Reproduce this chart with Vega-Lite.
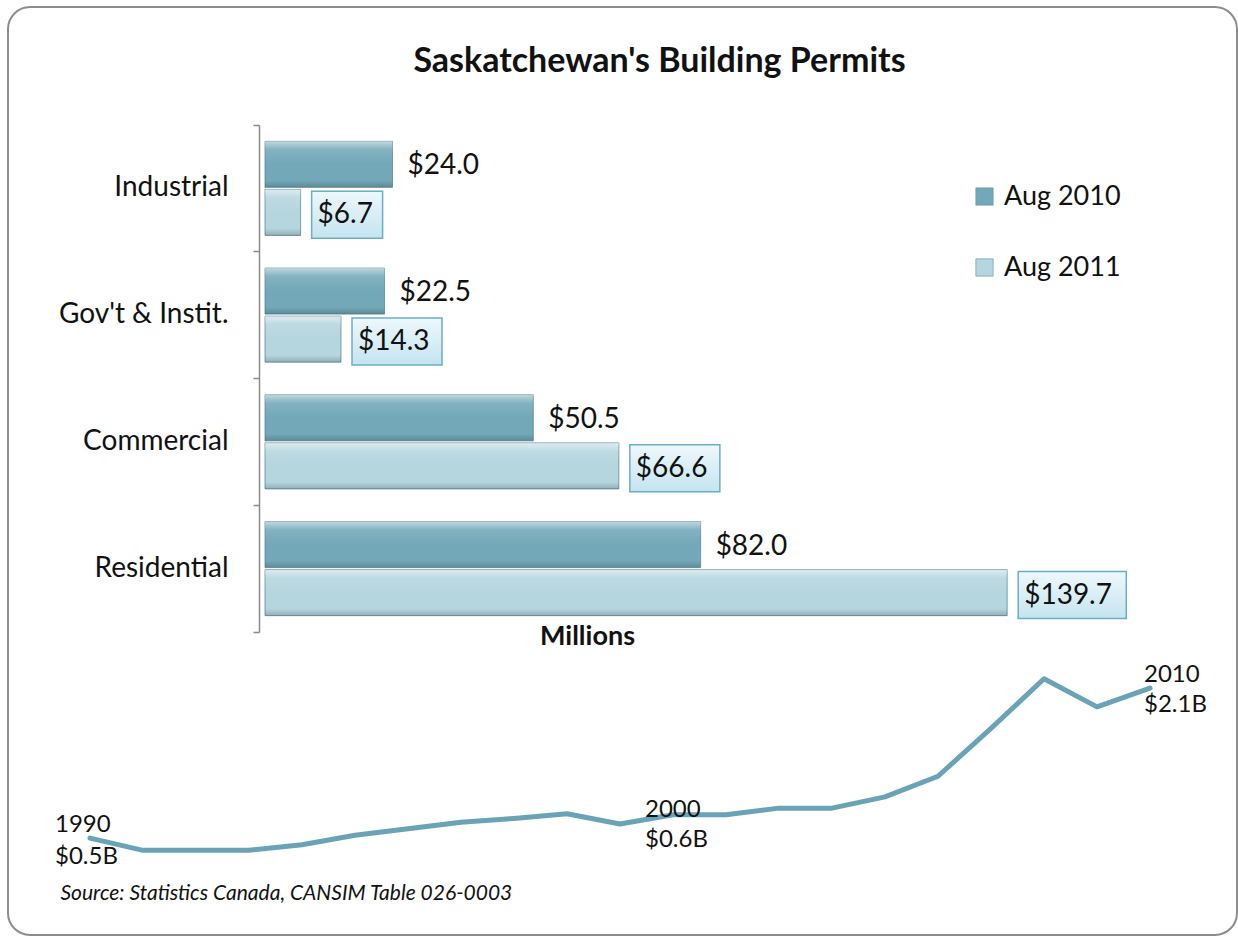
{
  "$schema": "https://vega.github.io/schema/vega-lite/v6.json",
  "width": 1229,
  "height": 928,
  "autosize": {"type": "none"},
  "padding": {"left": 8, "top": 7, "right": 1, "bottom": 7},
  "background": "white",
  "config": {
    "view": {"stroke": "#8c8c8c", "strokeWidth": 2, "cornerRadius": 22},
    "font": "Lato",
    "text": {"font": "Lato", "color": "#111111"}
  },
  "title": {
    "text": "Saskatchewan's Building Permits",
    "font": "Lato",
    "fontSize": 34,
    "fontWeight": "bold",
    "color": "#111111",
    "anchor": "middle",
    "offset": 0,
    "dx": 37,
    "dy": 86
  },
  "datasets": {
    "bars": [
      {"category": "Industrial", "series": "Aug 2010", "value": 24.0},
      {"category": "Industrial", "series": "Aug 2011", "value": 6.7},
      {"category": "Gov't & Instit.", "series": "Aug 2010", "value": 22.5},
      {"category": "Gov't & Instit.", "series": "Aug 2011", "value": 14.3},
      {"category": "Commercial", "series": "Aug 2010", "value": 50.5},
      {"category": "Commercial", "series": "Aug 2011", "value": 66.6},
      {"category": "Residential", "series": "Aug 2010", "value": 82.0},
      {"category": "Residential", "series": "Aug 2011", "value": 139.7}
    ],
    "trend": [
      {"year": 1990, "value": 0.50, "label": "1990\n$0.5B"},
      {"year": 1991, "value": 0.37, "label": ""},
      {"year": 1992, "value": 0.37, "label": ""},
      {"year": 1993, "value": 0.37, "label": ""},
      {"year": 1994, "value": 0.43, "label": ""},
      {"year": 1995, "value": 0.53, "label": ""},
      {"year": 1996, "value": 0.60, "label": ""},
      {"year": 1997, "value": 0.67, "label": ""},
      {"year": 1998, "value": 0.71, "label": ""},
      {"year": 1999, "value": 0.76, "label": ""},
      {"year": 2000, "value": 0.65, "label": "2000\n$0.6B"},
      {"year": 2001, "value": 0.75, "label": ""},
      {"year": 2002, "value": 0.75, "label": ""},
      {"year": 2003, "value": 0.82, "label": ""},
      {"year": 2004, "value": 0.82, "label": ""},
      {"year": 2005, "value": 0.94, "label": ""},
      {"year": 2006, "value": 1.16, "label": ""},
      {"year": 2007, "value": 1.67, "label": ""},
      {"year": 2008, "value": 2.20, "label": ""},
      {"year": 2009, "value": 1.90, "label": ""},
      {"year": 2010, "value": 2.10, "label": "2010\n$2.1B"}
    ]
  },
  "layer": [
    {
      "data": {"name": "bars"},
      "encoding": {
        "y": {
          "field": "category",
          "type": "nominal",
          "sort": ["Industrial", "Gov't & Instit.", "Commercial", "Residential"],
          "scale": {"range": [118, 625], "paddingInner": 0, "paddingOuter": 0},
          "axis": {
            "orient": "left",
            "title": null,
            "offset": -251,
            "grid": false,
            "domainColor": "#8a8a8a",
            "domainWidth": 1.5,
            "tickColor": "#8a8a8a",
            "tickWidth": 1.5,
            "tickSize": 6,
            "bandPosition": 1,
            "tickExtra": true,
            "labelFont": "Lato",
            "labelFontSize": 28,
            "labelColor": "#111111",
            "labelPadding": 25
          }
        },
        "yOffset": {
          "field": "series",
          "type": "nominal",
          "scale": {"paddingInner": 0.042, "paddingOuter": 0.34}
        },
        "x": {
          "field": "value",
          "type": "quantitative",
          "scale": {"domain": [0, 160], "range": [257, 1107], "nice": false, "zero": true},
          "axis": {
            "orient": "bottom",
            "labels": false,
            "ticks": false,
            "domain": false,
            "grid": false,
            "title": "Millions",
            "titleFont": "Lato",
            "titleFontSize": 27,
            "titleFontWeight": "bold",
            "titleColor": "#111111",
            "titleX": 579,
            "titleY": -299,
            "titleAnchor": null,
            "titleAlign": "center",
            "titleBaseline": "middle"
          }
        }
      },
      "layer": [
        {
          "mark": {"type": "bar", "stroke": "#4f7f8d", "strokeWidth": 1, "strokeOpacity": 0.7},
          "encoding": {
            "color": {
              "field": "series",
              "type": "nominal",
              "scale": {"domain": ["Aug 2010", "Aug 2011"], "range": ["#72a8b8", "#b5d5df"]},
              "legend": {
                "title": null,
                "orient": "none",
                "legendX": 963,
                "legendY": 176,
                "padding": 0,
                "symbolType": "square",
                "symbolSize": 300,
                "symbolStrokeColor": "#5d8f9e",
                "symbolStrokeWidth": 0.6,
                "symbolOpacity": 1,
                "labelFont": "Lato",
                "labelFontSize": 27,
                "labelColor": "#111111",
                "labelOffset": 6,
                "rowPadding": 43
              }
            }
          }
        },
        {
          "mark": {
            "type": "bar",
            "fill": {
              "gradient": "linear",
              "x1": 0, "y1": 0, "x2": 0, "y2": 1,
              "stops": [
                {"offset": 0, "color": "rgba(255,255,255,0.55)"},
                {"offset": 0.18, "color": "rgba(255,255,255,0.12)"},
                {"offset": 0.5, "color": "rgba(255,255,255,0)"},
                {"offset": 0.85, "color": "rgba(0,0,0,0)"},
                {"offset": 1, "color": "rgba(0,0,0,0.18)"}
              ]
            }
          }
        },
        {
          "transform": [{"filter": "datum.series == 'Aug 2010'"}],
          "mark": {"type": "text", "align": "left", "baseline": "middle", "dx": 15, "dy": 2, "fontSize": 28, "font": "Lato", "color": "#111111"},
          "encoding": {"text": {"field": "value", "type": "quantitative", "format": "$.1f"}}
        },
        {
          "transform": [{"filter": "datum.series == 'Aug 2011'"}],
          "mark": {
            "type": "point",
            "filled": true,
            "opacity": 1,
            "size": 2209,
            "fill": {
              "gradient": "linear",
              "x1": 0, "y1": 0, "x2": 0, "y2": 1,
              "stops": [
                {"offset": 0, "color": "#eef8fc"},
                {"offset": 1, "color": "#c4e4f0"}
              ]
            },
            "stroke": "#6aaec4",
            "strokeWidth": 1.5
          },
          "encoding": {
            "shape": {
              "field": "value",
              "type": "nominal",
              "scale": {
                "domain": [6.7, 14.3, 66.6, 139.7],
                "range": [
                  "M0.47,-0.9H3.49V1.1H0.47Z",
                  "M0.47,-0.9H4.30V1.1H0.47Z",
                  "M0.47,-0.9H4.30V1.1H0.47Z",
                  "M0.47,-0.9H5.07V1.1H0.47Z"
                ]
              },
              "legend": null
            }
          }
        },
        {
          "transform": [{"filter": "datum.series == 'Aug 2011'"}],
          "mark": {"type": "text", "align": "left", "baseline": "middle", "dx": 17, "dy": 3, "fontSize": 28, "font": "Lato", "color": "#111111"},
          "encoding": {"text": {"field": "value", "type": "quantitative", "format": "$.1f"}}
        }
      ]
    },
    {
      "data": {"name": "trend"},
      "encoding": {
        "x": {
          "field": "year",
          "type": "quantitative",
          "scale": {"domain": [1990, 2010], "range": [82, 1142], "nice": false, "zero": false},
          "axis": {
            "orient": "top",
            "labels": false,
            "ticks": false,
            "domain": false,
            "grid": false,
            "title": "Source: Statistics Canada,  CANSIM Table 026-0003",
            "titleFont": "Lato",
            "titleFontSize": 21,
            "titleFontStyle": "italic",
            "titleFontWeight": "normal",
            "titleColor": "#111111",
            "titleX": 52,
            "titleY": 886,
            "titleAnchor": null,
            "titleAlign": "left",
            "titleBaseline": "middle"
          }
        },
        "y": {
          "field": "value",
          "type": "quantitative",
          "scale": {"domain": [0, 2.4], "range": [878, 653], "nice": false, "zero": false},
          "axis": null
        }
      },
      "layer": [
        {
          "mark": {"type": "line", "color": "#6aa3b5", "strokeWidth": 5, "strokeJoin": "round", "strokeCap": "round"}
        },
        {
          "transform": [{"filter": "datum.year == 1990"}],
          "mark": {"type": "text", "align": "left", "baseline": "middle", "dx": -35, "dy": -13, "fontSize": 24, "lineHeight": 32, "lineBreak": "\n", "font": "Lato", "color": "#111111"},
          "encoding": {"text": {"field": "label", "type": "nominal"}}
        },
        {
          "transform": [{"filter": "datum.year == 2000"}],
          "mark": {"type": "text", "align": "left", "baseline": "middle", "dx": 25, "dy": -14, "fontSize": 24, "lineHeight": 30, "lineBreak": "\n", "font": "Lato", "color": "#111111"},
          "encoding": {"text": {"field": "label", "type": "nominal"}}
        },
        {
          "transform": [{"filter": "datum.year == 2010"}],
          "mark": {"type": "text", "align": "left", "baseline": "middle", "dx": -6, "dy": -13, "fontSize": 24, "lineHeight": 30, "lineBreak": "\n", "font": "Lato", "color": "#111111"},
          "encoding": {"text": {"field": "label", "type": "nominal"}}
        }
      ]
    }
  ],
  "resolve": {
    "scale": {"x": "independent", "y": "independent"},
    "axis": {"x": "independent", "y": "independent"}
  }
}
